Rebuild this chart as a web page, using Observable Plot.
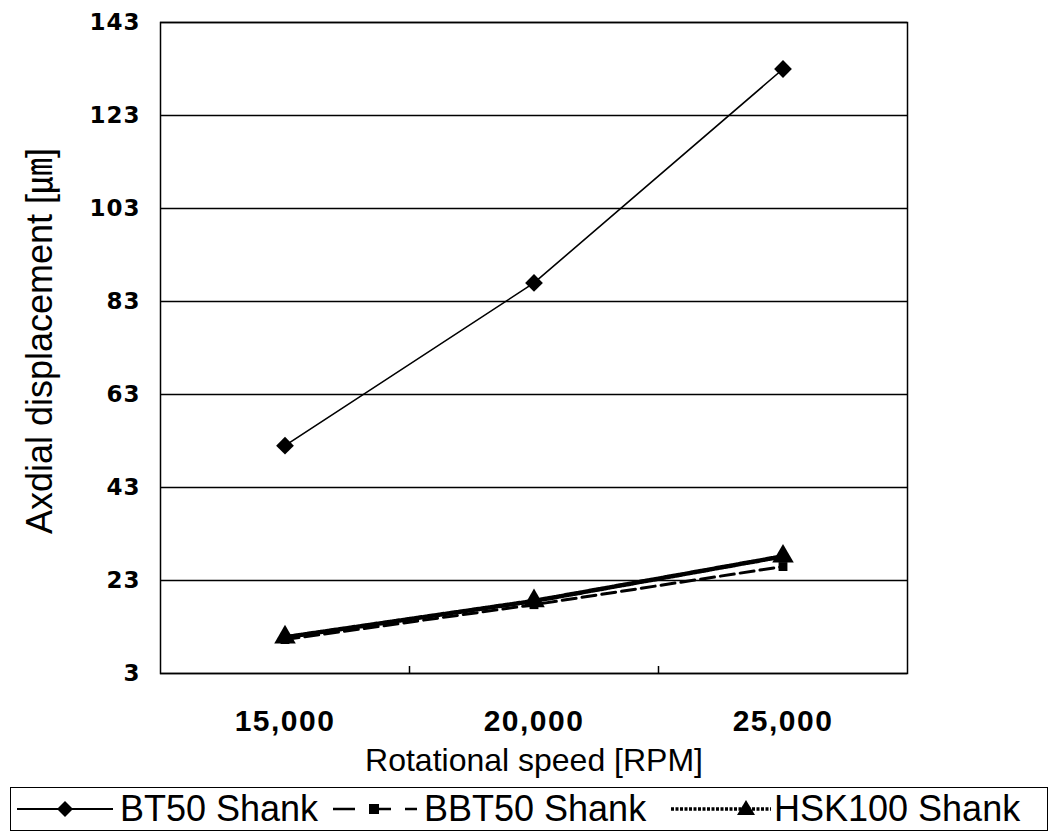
<!DOCTYPE html>
<html>
<head>
<meta charset="utf-8">
<script src="https://cdn.jsdelivr.net/npm/d3@7"></script>
<script src="https://cdn.jsdelivr.net/npm/@observablehq/plot@0.6"></script>
<style>
  html, body { margin: 0; padding: 0; background: #fff; }
  #chart { position: relative; width: 1055px; height: 837px; overflow: hidden; }
  #chart svg { display: block; }
  svg [aria-label="y-axis tick label"] text { font-family: "DejaVu Sans", sans-serif; font-weight: bold; font-size: 23px; letter-spacing: 1px; }
  svg [aria-label="x-axis tick label"] text { font-family: "Liberation Sans", Arial, sans-serif; font-weight: bold; font-size: 30px; letter-spacing: 1.5px; }
  .legend { position: absolute; left: 10px; top: 787px; width: 1038px; height: 44px; border: 1.5px solid #000; box-sizing: border-box;
            font-family: "Liberation Sans", Arial, sans-serif; font-size: 36px; color: #000; white-space: nowrap; }
  .legend svg, .legend span { position: absolute; }
  .legend svg { top: 6px; }
  .legend span { top: 1px; line-height: 40px; }
</style>
</head>
<body>
<div id="chart"></div>
<script>
// ---- data ----
const speeds = [15000, 20000, 25000];
const speedLabels = ["15,000", "20,000", "25,000"];
const bt50 = [52, 87, 133];
const bbt50 = [10.3, 17.8, 26];
const hsk100 = [10.8, 18.6, 28.2];
const yTicks = [3, 23, 43, 63, 83, 103, 123, 143];
const seriesNames = ["BT50 Shank", "BBT50 Shank", "HSK100 Shank"];
const xLabel = "Rotational speed [RPM]";
const yLabel = "Axdial displacement [㎛]";

const step = speeds[1] - speeds[0];
const xDomain = [speeds[0] - step / 2, speeds[speeds.length - 1] + step / 2];
const bounds = speeds.slice(0, -1).map((s, i) => (s + speeds[i + 1]) / 2);

const rows = (vals, name) => speeds.map((s, i) => ({speed: s, value: vals[i], series: name}));
const dBT = rows(bt50, seriesNames[0]);
const dBBT = rows(bbt50, seriesNames[1]);
const dHSK = rows(hsk100, seriesNames[2]);

const plot = Plot.plot({
  width: 1055,
  height: 780,
  marginLeft: 160,
  marginRight: 148,
  marginTop: 22,
  marginBottom: 107,
  style: {background: "#fff", color: "#000", fontFamily: "Liberation Sans, Arial, sans-serif"},
  x: {domain: xDomain},
  y: {domain: [yTicks[0], yTicks[yTicks.length - 1]]},
  marks: [
    Plot.gridY(yTicks, {stroke: "#000", strokeOpacity: 1, strokeWidth: 1.5}),
    Plot.frame({stroke: "#000", strokeWidth: 1.5}),
    Plot.axisY(yTicks, {tickSize: 0, tickPadding: 20, label: null}),
    Plot.axisX(speeds, {tickSize: 0, tickPadding: 36, label: null, tickFormat: (d) => speedLabels[speeds.indexOf(d)]}),
    Plot.axisX(bounds, {tickSize: -7, tickFormat: () => "", label: null, strokeWidth: 1.5}),
    Plot.text([xLabel], {frameAnchor: "bottom", dy: 97, fontSize: 32, fill: "#000"}),
    Plot.text([yLabel], {frameAnchor: "left", textAnchor: "middle", dx: -120, dy: -7, rotate: -90, fontSize: 36, fill: "#000", fontFamily: "Liberation Sans, Noto Sans CJK KR, sans-serif"}),
    // BBT50 dashed
    Plot.line(dBBT, {x: "speed", y: "value", stroke: "#000", strokeWidth: 3, strokeDasharray: "14,6"}),
    Plot.dot(dBBT, {x: "speed", y: "value", symbol: "square", r: 5, fill: "#000", stroke: "none"}),
    // HSK100 thick dotted
    Plot.line(dHSK, {x: "speed", y: "value", stroke: "#000", strokeWidth: 4.5, strokeDasharray: "3,1.5"}),
    Plot.dot(dHSK, {x: "speed", y: "value", symbol: "triangle", r: 8, fill: "#000", stroke: "none"}),
    // BT50 solid
    Plot.line(dBT, {x: "speed", y: "value", stroke: "#000", strokeWidth: 1.6}),
    Plot.dot(dBT, {x: "speed", y: "value", symbol: "diamond2", r: 8, fill: "#000", stroke: "none"})
  ]
});

const chart = document.getElementById("chart");
chart.appendChild(plot);

// legend
const legend = document.createElement("div");
legend.className = "legend";
const sym = [
  `<svg style="left:4px" width="100" height="30"><line x1="2" y1="15" x2="98" y2="15" stroke="#000" stroke-width="2"/><path d="M50,7L58,15L50,23L42,15Z" fill="#000"/></svg>`,
  `<svg style="left:318px" width="92" height="30"><line x1="4" y1="15" x2="88" y2="15" stroke="#000" stroke-width="2.5" stroke-dasharray="22,14"/><rect x="40" y="10" width="10" height="10" fill="#000"/></svg>`,
  `<svg style="left:658px" width="104" height="30"><line x1="2" y1="15" x2="102" y2="15" stroke="#000" stroke-width="3.5" stroke-dasharray="3,1.5"/><path d="M77,6L86,21L68,21Z" fill="#000"/></svg>`
];
const textLeft = [109, 413, 763];
seriesNames.forEach((name, i) => {
  legend.insertAdjacentHTML("beforeend", sym[i] + `<span style="left:${textLeft[i]}px">${name}</span>`);
});
chart.appendChild(legend);
</script>
</body>
</html>
